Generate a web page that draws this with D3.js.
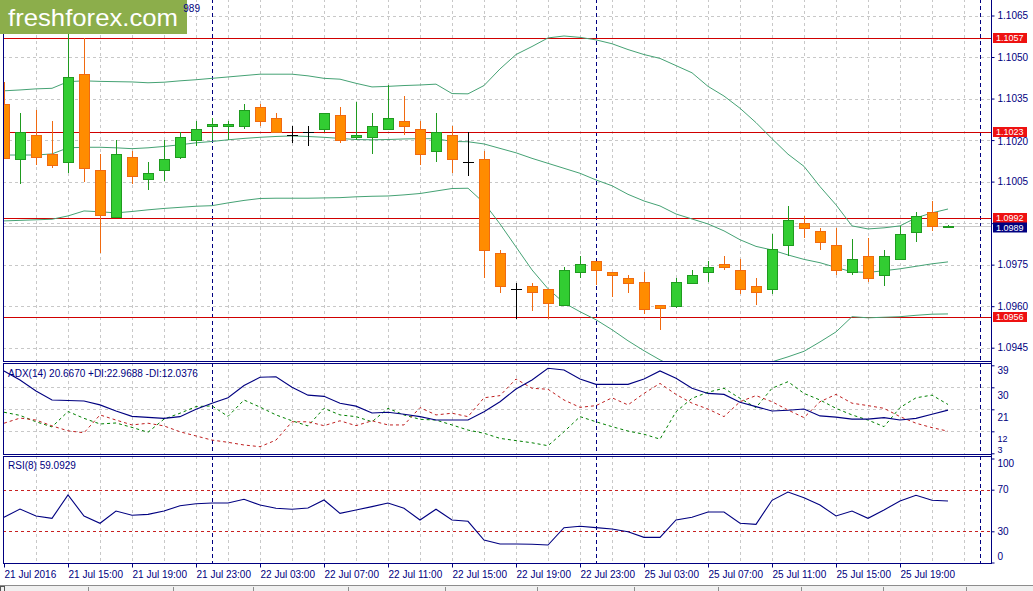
<!DOCTYPE html>
<html>
<meta charset="utf-8">
<script src="https://d3js.org/d3.v7.min.js"></script>
<style>
    body { margin: 0; background: #fff; }
    text { font-family: "Liberation Sans", Arial, sans-serif; }
</style>
<body>
    <div id="chart"></div>
    <script>

        // EURUSD H1 bars, 21 Jul 11:00 .. 25 Jul 22:00
        var open = [1.10331, 1.10131, 1.10218, 1.10149, 1.10120, 1.10438, 1.10091, 1.09923, 1.10138, 1.10059,
            1.10091, 1.10138, 1.10199, 1.10250, 1.10250, 1.10250, 1.10319, 1.10279, 1.10218, 1.10228,
            1.10239, 1.10290, 1.10210, 1.10210, 1.10239, 1.10268, 1.10239, 1.10160, 1.10218, 1.10120,
            1.10131, 1.09792, 1.09662, 1.09672, 1.09662, 1.09604, 1.09723, 1.09763, 1.09723, 1.09701,
            1.09689, 1.09604, 1.09604, 1.09683, 1.09723, 1.09752, 1.09730, 1.09672, 1.09662, 1.09820,
            1.09900, 1.09871, 1.09820, 1.09723, 1.09781, 1.09712, 1.09770, 1.09871, 1.09940, 1.09885];
        var high = [1.10410, 1.10299, 1.10309, 1.10269, 1.10600, 1.10568, 1.10150, 1.10201, 1.10161, 1.10121,
            1.10201, 1.10228, 1.10269, 1.10280, 1.10269, 1.10332, 1.10332, 1.10299, 1.10250, 1.10250,
            1.10298, 1.10319, 1.10337, 1.10297, 1.10399, 1.10359, 1.10268, 1.10297, 1.10250, 1.10228,
            1.10161, 1.09802, 1.09683, 1.09683, 1.09663, 1.09742, 1.09781, 1.09764, 1.09724, 1.09712,
            1.09723, 1.09605, 1.09701, 1.09730, 1.09763, 1.09781, 1.09770, 1.09701, 1.09859, 1.09961,
            1.09927, 1.09882, 1.09882, 1.09842, 1.09848, 1.09803, 1.09888, 1.09940, 1.09980, 1.09892];
        var low = [1.10132, 1.10041, 1.10109, 1.10098, 1.10080, 1.10050, 1.09792, 1.09921, 1.10041, 1.10019,
            1.10051, 1.10131, 1.10178, 1.10201, 1.10199, 1.10239, 1.10250, 1.10228, 1.10189, 1.10178,
            1.10228, 1.10189, 1.10199, 1.10149, 1.10238, 1.10218, 1.10109, 1.10120, 1.10080, 1.10070,
            1.09700, 1.09649, 1.09553, 1.09581, 1.09553, 1.09603, 1.09700, 1.09678, 1.09633, 1.09649,
            1.09570, 1.09514, 1.09593, 1.09682, 1.09689, 1.09729, 1.09645, 1.09604, 1.09645, 1.09781,
            1.09848, 1.09803, 1.09712, 1.09712, 1.09689, 1.09672, 1.09769, 1.09831, 1.09871, 1.09884];
        var close = [1.10136, 1.10229, 1.10138, 1.10109, 1.10427, 1.10098, 1.09929, 1.10149, 1.10070, 1.10080,
            1.10131, 1.10210, 1.10239, 1.10257, 1.10257, 1.10308, 1.10268, 1.10228, 1.10218, 1.10228,
            1.10297, 1.10199, 1.10218, 1.10250, 1.10279, 1.10250, 1.10149, 1.10228, 1.10131, 1.10120,
            1.09802, 1.09672, 1.09662, 1.09649, 1.09610, 1.09730, 1.09752, 1.09729, 1.09712, 1.09683,
            1.09593, 1.09593, 1.09689, 1.09712, 1.09741, 1.09741, 1.09662, 1.09649, 1.09808, 1.09911,
            1.09882, 1.09831, 1.09730, 1.09770, 1.09701, 1.09781, 1.09860, 1.09927, 1.09888, 1.09890];

        // Bollinger bands
        var bbUpper = [1.10378, 1.10381, 1.10385, 1.10387, 1.10411, 1.10414, 1.10412, 1.10411, 1.10410, 1.10407,
            1.10409, 1.10414, 1.10418, 1.10423, 1.10428, 1.10433, 1.10438, 1.10438, 1.10438, 1.10432,
            1.10423, 1.10420, 1.10405, 1.10392, 1.10394, 1.10397, 1.10399, 1.10402, 1.10368, 1.10367,
            1.10397, 1.10457, 1.10509, 1.10538, 1.10569, 1.10576, 1.10571, 1.10562, 1.10548, 1.10527,
            1.10509, 1.10495, 1.10469, 1.10443, 1.10394, 1.10359, 1.10315, 1.10263, 1.10205, 1.10149,
            1.10105, 1.10032, 1.09966, 1.09890, 1.09879, 1.09883, 1.09890, 1.09919, 1.09937, 1.09951];
        var bbMiddle = [1.10146, 1.10146, 1.10146, 1.10150, 1.10172, 1.10174, 1.10174, 1.10172, 1.10169, 1.10172,
            1.10177, 1.10183, 1.10190, 1.10195, 1.10201, 1.10206, 1.10210, 1.10213, 1.10215, 1.10213,
            1.10210, 1.10206, 1.10202, 1.10201, 1.10202, 1.10204, 1.10205, 1.10205, 1.10195, 1.10194,
            1.10186, 1.10170, 1.10154, 1.10134, 1.10116, 1.10098, 1.10080, 1.10056, 1.10035, 1.10004,
            1.09980, 1.09962, 1.09933, 1.09915, 1.09897, 1.09872, 1.09840, 1.09816, 1.09803, 1.09785,
            1.09769, 1.09757, 1.09740, 1.09724, 1.09722, 1.09728, 1.09735, 1.09744, 1.09753, 1.09760];
        var bbLower = [1.09908, 1.09910, 1.09912, 1.09914, 1.09926, 1.09944, 1.09941, 1.09937, 1.09942, 1.09948,
            1.09953, 1.09957, 1.09961, 1.09963, 1.09973, 1.09982, 1.09989, 1.09990, 1.09990, 1.09990,
            1.09991, 1.09992, 1.09995, 1.09997, 1.09998, 1.10002, 1.10007, 1.10016, 1.10025, 1.10026,
            1.09973, 1.09897, 1.09814, 1.09731, 1.09663, 1.09612, 1.09580, 1.09551, 1.09515, 1.09475,
            1.09439, 1.09406, 1.09377, 1.09356, 1.09345, 1.09345, 1.09356, 1.09374, 1.09399, 1.09417,
            1.09437, 1.09471, 1.09507, 1.09562, 1.09558, 1.09560, 1.09562, 1.09567, 1.09571, 1.09572];

        // ADX(14)
        var adx = [36.7, 33.0, 28.5, 24.8, 24.6, 24.4, 22.8, 20.3, 18.1, 17.7,
            17.3, 18.0, 21.0, 23.5, 25.7, 30.7, 34.1, 34.3, 30.0, 26.8,
            26.3, 23.5, 22.3, 19.5, 19.8, 19.0, 18.0, 16.6, 16.6, 16.6,
            20.0, 24.1, 29.3, 33.0, 37.8, 37.1, 33.4, 31.2, 31.2, 31.2,
            33.4, 36.7, 33.7, 29.6, 27.5, 27.1, 23.9, 22.1, 20.3, 20.6,
            21.1, 18.3, 17.8, 17.0, 17.0, 17.6, 16.6, 17.3, 19.0, 20.667];
        var plusDI = [19.8, 18.5, 15.9, 13.8, 20.1, 17.3, 15.0, 15.4, 13.6, 11.6,
            17.0, 19.4, 22.1, 22.4, 18.1, 24.8, 21.9, 18.7, 16.3, 14.2,
            21.4, 18.7, 18.0, 15.9, 21.4, 18.7, 16.9, 16.6, 14.6, 12.5,
            11.2, 9.1, 8.2, 7.3, 6.1, 11.8, 18.0, 15.9, 13.9, 12.1,
            10.8, 8.8, 20.0, 25.5, 28.0, 29.6, 25.5, 21.7, 29.6, 32.3,
            27.5, 24.8, 21.4, 18.7, 16.6, 13.9, 21.7, 25.7, 26.8, 22.97];
        var minusDI = [15.3, 17.4, 16.6, 14.2, 12.2, 11.4, 18.7, 16.6, 14.6, 15.3,
            14.2, 11.8, 10.1, 8.4, 7.5, 6.4, 5.7, 8.4, 15.9, 15.9,
            14.3, 16.3, 14.3, 16.3, 14.6, 14.6, 21.7, 18.7, 19.4, 18.0,
            25.7, 26.6, 33.4, 29.6, 29.2, 24.8, 21.8, 22.5, 25.7, 22.8,
            27.5, 31.6, 27.1, 23.5, 21.1, 18.0, 24.1, 26.6, 24.1, 20.7,
            17.6, 24.1, 27.1, 23.5, 22.5, 21.4, 18.0, 15.3, 13.5, 12.04];

        // RSI(8)
        var rsi = [43.5, 51.4, 44.7, 42.5, 64.9, 44.7, 37.7, 49.5, 45.4, 46.3,
            49.5, 54.6, 56.5, 57.2, 57.2, 60.8, 55.3, 52.1, 51.2, 52.4,
            60.1, 47.3, 50.5, 53.7, 57.2, 52.1, 40.9, 51.2, 40.9, 39.6,
            21.6, 17.8, 17.8, 17.5, 16.8, 33.5, 34.8, 33.5, 32.2, 29.6,
            24.2, 24.2, 40.9, 43.5, 48.6, 48.6, 37.7, 36.7, 59.8, 67.8,
            62.3, 55.3, 44.7, 49.5, 42.5, 50.5, 59.1, 64.6, 59.8, 59.09];

        // levels and ticks
        var levels = [1.1057, 1.1023, 1.0992, 1.0956];
        var bid = 1.0989;
        var priceTicks = [1.1065, 1.1050, 1.1035, 1.1020, 1.1005, 1.0990, 1.0975, 1.0960, 1.0945];
        var hiddenTick = 1.0990; // its label sits under the price tags
        var adxTicks = [39, 30, 21, 12, 3];
        var rsiTicks = [100, 70, 30, 0];
        var rsiLevels = [70, 30];
        var daySeparators = [13, 37, 61];
        var labelBars = [0, 4, 8, 12, 16, 20, 24, 28, 32, 36, 40, 44, 48, 52, 56];
        var timeLabels = ["21 Jul 2016", "21 Jul 15:00", "21 Jul 19:00", "21 Jul 23:00", "22 Jul 03:00",
            "22 Jul 07:00", "22 Jul 11:00", "22 Jul 15:00", "22 Jul 19:00", "22 Jul 23:00",
            "25 Jul 03:00", "25 Jul 07:00", "25 Jul 11:00", "25 Jul 15:00", "25 Jul 19:00"];
        var adxLabel = "ADX(14) 20.6670 +DI:22.9688 -DI:12.0376";
        var rsiLabel = "RSI(8) 59.0929";
        var titleTail = "989";
        var tabEdges = [88, 173, 253, 348, 445, 537, 634, 718, 801, 883, 966];

        var W = 1033, H = 591;
        var left = 3, right = 991;
        var navy = "#000080";
        var main = { top: -1, bottom: 361 }, adxP = { top: 363, bottom: 454 }, rsiP = { top: 456, bottom: 563 };

        var svg = d3.select("#chart").append("svg")
            .attr("width", W).attr("height", H);

        var bars = d3.range(open.length);

        // scales
        var x = d3.scaleLinear().domain([0, 59]).range([4, 948]);
        var y = d3.scaleLinear().domain([1.0945, 1.1065]).range([347.7, 15.5]);
        var yAdx = d3.scaleLinear().domain([3, 39]).range([453.3, 365.3]);
        var yRsi = d3.scaleLinear().domain([0, 100]).range([562.5, 458.5]);

        // clip paths for the three windows
        var defs = svg.append("defs");
        [["clipMain", main], ["clipAdx", adxP], ["clipRsi", rsiP]].forEach(function (c) {
            defs.append("clipPath").attr("id", c[0]).append("rect")
                .attr("x", left).attr("y", c[1].top)
                .attr("width", right - left).attr("height", c[1].bottom - c[1].top);
        });

        var gMain = svg.append("g").attr("clip-path", "url(#clipMain)");
        var gAdx = svg.append("g").attr("clip-path", "url(#clipAdx)");
        var gRsi = svg.append("g").attr("clip-path", "url(#clipRsi)");

        // vertical grid every two bars, in all windows
        var gridBars = bars.filter(function (i) { return i % 2 == 0 && i > 0; }).concat([60]);
        [[gMain, main], [gAdx, adxP], [gRsi, rsiP]].forEach(function (p) {
            p[0].selectAll(".vgrid").data(gridBars).enter().append("line")
                .attr("x1", function (d) { return Math.round(x(d)) + 0.5; })
                .attr("x2", function (d) { return Math.round(x(d)) + 0.5; })
                .attr("y1", p[1].top).attr("y2", p[1].bottom)
                .attr("stroke", "#c8c8c8").attr("stroke-dasharray", "3,3");
        });

        // horizontal grid
        gMain.selectAll(".hgrid").data(priceTicks).enter().append("line")
            .attr("x1", left).attr("x2", right)
            .attr("y1", function (d) { return Math.round(y(d)) + 0.5; })
            .attr("y2", function (d) { return Math.round(y(d)) + 0.5; })
            .attr("stroke", "#c8c8c8").attr("stroke-dasharray", "3,3");
        gAdx.selectAll(".hgrid").data([30, 21, 12]).enter().append("line")
            .attr("x1", left).attr("x2", right)
            .attr("y1", function (d) { return Math.round(yAdx(d)) + 0.5; })
            .attr("y2", function (d) { return Math.round(yAdx(d)) + 0.5; })
            .attr("stroke", "#c8c8c8").attr("stroke-dasharray", "3,3");

        // day separators
        [[gMain, main], [gAdx, adxP], [gRsi, rsiP]].forEach(function (p) {
            p[0].selectAll(".sep").data(daySeparators).enter().append("line")
                .attr("x1", function (d) { return Math.round(x(d)) + 0.5; })
                .attr("x2", function (d) { return Math.round(x(d)) + 0.5; })
                .attr("y1", p[1].top).attr("y2", p[1].bottom)
                .attr("stroke", navy).attr("stroke-dasharray", "4,3");
        });

        // bid line and horizontal levels
        gMain.append("line")
            .attr("x1", left).attr("x2", right)
            .attr("y1", Math.round(y(bid)) + 0.5).attr("y2", Math.round(y(bid)) + 0.5)
            .attr("stroke", "#c8c8c8");
        gMain.selectAll(".level").data(levels).enter().append("line")
            .attr("x1", left).attr("x2", right)
            .attr("y1", function (d) { return Math.round(y(d)) + 0.5; })
            .attr("y2", function (d) { return Math.round(y(d)) + 0.5; })
            .attr("stroke", "#d00000");

        // Bollinger bands
        var bbLine = function (arr) {
            return d3.line().x(function (i) { return x(i); }).y(function (i) { return y(arr[i]); })(bars);
        };
        [bbUpper, bbMiddle, bbLower].forEach(function (arr) {
            gMain.append("path").attr("d", bbLine(arr))
                .attr("fill", "none").attr("stroke", "#45a274").attr("stroke-width", 1);
        });

        // candles
        var candle = gMain.selectAll(".candle").data(bars).enter().append("g")
            .attr("shape-rendering", "crispEdges");
        var colorOf = function (i) {
            if (open[i] == close[i]) return "#000";
            return close[i] > open[i] ? "#1f9a1f" : "#f06a10";
        };
        candle.append("line")
            .attr("x1", function (i) { return Math.round(x(i)) + 0.5; })
            .attr("x2", function (i) { return Math.round(x(i)) + 0.5; })
            .attr("y1", function (i) { return y(high[i]); })
            .attr("y2", function (i) { return y(low[i]); })
            .attr("stroke", colorOf);
        candle.filter(function (i) { return open[i] != close[i]; }).append("rect")
            .attr("x", function (i) { return Math.round(x(i)) - 4.5; })
            .attr("width", 10)
            .attr("y", function (i) { return Math.round(y(Math.max(open[i], close[i]))) + 0.5; })
            .attr("height", function (i) { return Math.max(1, Math.round(Math.abs(y(open[i]) - y(close[i])))); })
            .attr("fill", function (i) { return close[i] > open[i] ? "#32cd32" : "#ff8c00"; })
            .attr("stroke", colorOf);
        candle.filter(function (i) { return open[i] == close[i]; }).append("line")
            .attr("x1", function (i) { return Math.round(x(i)) - 5; })
            .attr("x2", function (i) { return Math.round(x(i)) + 6; })
            .attr("y1", function (i) { return Math.round(y(open[i])) + 0.5; })
            .attr("y2", function (i) { return Math.round(y(open[i])) + 0.5; })
            .attr("stroke", "#000");

        // ADX window
        var adxLine = function (arr) {
            return d3.line().x(function (i) { return x(i); }).y(function (i) { return yAdx(arr[i]); })(bars);
        };
        gAdx.append("path").attr("d", adxLine(plusDI))
            .attr("fill", "none").attr("stroke", "#008000").attr("stroke-dasharray", "3,3");
        gAdx.append("path").attr("d", adxLine(minusDI))
            .attr("fill", "none").attr("stroke", "#c02020").attr("stroke-dasharray", "3,3");
        gAdx.append("path").attr("d", adxLine(adx))
            .attr("fill", "none").attr("stroke", navy).attr("stroke-width", 1.1);

        // RSI window
        gRsi.selectAll(".rlevel").data(rsiLevels).enter().append("line")
            .attr("x1", left).attr("x2", right)
            .attr("y1", function (d) { return Math.round(yRsi(d)) + 0.5; })
            .attr("y2", function (d) { return Math.round(yRsi(d)) + 0.5; })
            .attr("stroke", "#c82020").attr("stroke-dasharray", "3,3");
        gRsi.append("path")
            .attr("d", d3.line().x(function (i) { return x(i); }).y(function (i) { return yRsi(rsi[i]); })(bars))
            .attr("fill", "none").attr("stroke", navy).attr("stroke-width", 1.1);

        // window frames
        [main, adxP, rsiP].forEach(function (p) {
            svg.append("rect")
                .attr("x", left + 0.5).attr("y", p.top + 0.5)
                .attr("width", right - left).attr("height", p.bottom - p.top)
                .attr("fill", "none").attr("stroke", navy);
        });

        // window captions
        svg.append("text").attr("x", 8).attr("y", 377)
            .attr("font-size", "10px").attr("fill", navy).text(adxLabel);
        svg.append("text").attr("x", 8).attr("y", 469)
            .attr("font-size", "10px").attr("fill", navy).text(rsiLabel);

        // price axis
        var styleAxis = function (g) {
            g.select(".domain").remove();
            g.selectAll("line").attr("stroke", navy);
            g.selectAll("text").attr("fill", navy).attr("font-size", "10px")
                .attr("font-family", "Liberation Sans, Arial, sans-serif");
        };
        svg.append("g")
            .attr("transform", "translate(" + (right + 0.5) + ",0)")
            .call(d3.axisRight(y).tickValues(priceTicks).tickSize(3).tickPadding(3)
                .tickFormat(function (d) { return d == hiddenTick ? "" : d3.format(".4f")(d); }))
            .call(styleAxis)
            .selectAll("text").attr("y", function (d) { return d == 1.1020 ? 1.5 : 0; });

        var adxOffset = { 39: 4.7, 30: 8, 21: 8, 12: 7, 3: -4 };
        svg.append("g")
            .attr("transform", "translate(" + (right + 0.5) + ",0)")
            .call(d3.axisRight(yAdx).tickValues(adxTicks).tickSize(3).tickPadding(3))
            .call(styleAxis)
            .selectAll("text").attr("y", function (d) { return adxOffset[d]; })
            .attr("font-size", function (d) { return d == 3 || d == 12 ? "9px" : "10px"; });

        var rsiOffset = { 100: 4.8, 70: 0, 30: 0, 0: -6 };
        svg.append("g")
            .attr("transform", "translate(" + (right + 0.5) + ",0)")
            .call(d3.axisRight(yRsi).tickValues(rsiTicks).tickSize(3).tickPadding(3))
            .call(styleAxis)
            .selectAll("text").attr("y", function (d) { return rsiOffset[d]; });

        // price axis line
        svg.append("line")
            .attr("x1", right + 0.5).attr("x2", right + 0.5)
            .attr("y1", 0).attr("y2", rsiP.bottom)
            .attr("stroke", navy);

        // level tags on the price axis
        var tag = svg.selectAll(".tag").data(levels.map(function (v) { return { v: v, bg: "#ee1111", dy: 0 }; })
            .concat([{ v: bid, bg: navy, dy: 1.5 }])).enter().append("g")
            .attr("transform", function (d) { return "translate(993," + (Math.round(y(d.v)) + d.dy) + ")"; });
        tag.append("rect").attr("x", 0).attr("y", -5).attr("width", 34).attr("height", 10)
            .attr("fill", function (d) { return d.bg; });
        tag.append("text").attr("x", 3).attr("y", 3.3)
            .attr("font-size", "9px").attr("fill", "#fff")
            .text(function (d) { return d3.format(".4f")(d.v); });

        // time axis
        svg.append("g")
            .attr("transform", "translate(0," + (rsiP.bottom + 0.5) + ")")
            .call(d3.axisBottom(x).tickValues(labelBars).tickSize(4).tickPadding(3)
                .tickFormat(function (d, i) { return timeLabels[i]; }))
            .call(styleAxis)
            .selectAll("text").attr("text-anchor", "start").attr("x", 0);

        // tab strip at the bottom
        svg.append("rect").attr("x", 0).attr("y", 585).attr("width", W).attr("height", 6)
            .attr("fill", "#f0f0f0");
        svg.append("line").attr("x1", 0).attr("x2", W).attr("y1", 585.5).attr("y2", 585.5)
            .attr("stroke", "#8c8c8c");
        svg.append("rect").attr("x", 0.5).attr("y", 586.5).attr("width", 4).attr("height", 5)
            .attr("fill", "none").attr("stroke", "#555");
        svg.selectAll(".tab").data(tabEdges).enter().append("line")
            .attr("x1", function (d) { return d + 0.5; }).attr("x2", function (d) { return d + 0.5; })
            .attr("y1", 587).attr("y2", 591).attr("stroke", "#8c8c8c");

        // logo, with the visible end of the chart title beside it
        svg.append("rect").attr("x", 0).attr("y", 0).attr("width", 187).attr("height", 34)
            .attr("fill", "#8cae4b");
        svg.append("text").attr("x", 8).attr("y", 26)
            .attr("font-family", "Open Sans, sans-serif").attr("font-size", "24px")
            .attr("fill", "#fff").attr("textLength", 170).attr("lengthAdjust", "spacingAndGlyphs")
            .text("freshforex.com");
        svg.append("text").attr("x", 200).attr("y", 12).attr("text-anchor", "end")
            .attr("font-size", "10px").attr("fill", navy)
            .text(titleTail);

    </script>
</body>

</html>
